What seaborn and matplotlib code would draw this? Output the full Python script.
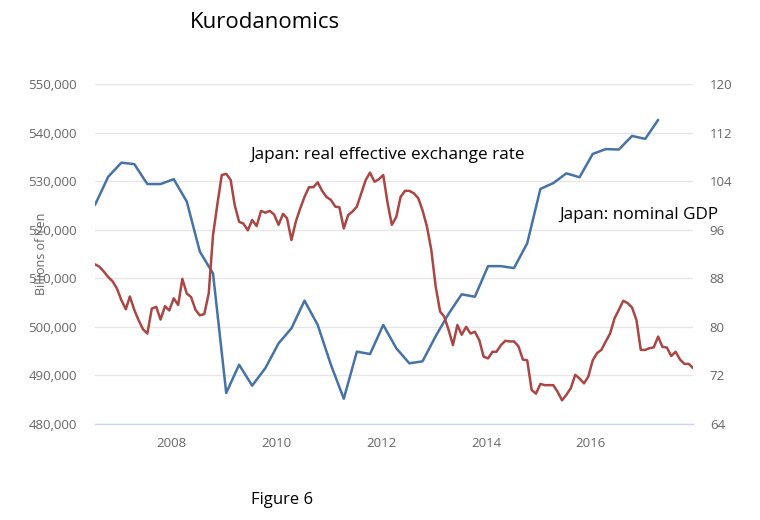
import pandas as pd
import matplotlib
matplotlib.use("Agg")
import matplotlib.pyplot as plt
import matplotlib.dates as mdates
from matplotlib.ticker import FuncFormatter, MultipleLocator
import seaborn as sns

# Japan nominal GDP, billions of yen (quarterly, from mid-2006)
gdp = [525100, 530900, 533800, 533500, 529400, 529400, 530400, 525800,
       515500, 511000, 486400, 492200, 487900, 491500, 496600, 499700,
       505400, 500400, 492200, 485200, 494900, 494400, 500400, 495600,
       492500, 492900, 498100, 502700, 506700, 506200, 512500, 512500,
       512100, 517200, 528400, 529600, 531600, 530800, 535600, 536600,
       536500, 539300, 538700, 542600]

# Japan real effective exchange rate (monthly, from mid-2006 to end 2017)
reer = [90.3, 89.9, 89.1, 88.2, 87.5, 86.3, 84.4, 82.9, 85.0, 82.8,
        81.1, 79.6, 78.9, 83.0, 83.3, 81.2, 83.4, 82.7, 84.7, 83.6,
        87.9, 85.5, 84.9, 82.8, 81.9, 82.1, 85.5, 95.1, 100.3, 105.0,
        105.2, 104.2, 100.1, 97.3, 97.0, 95.9, 97.6, 96.6, 99.1, 98.8,
        99.1, 98.5, 96.8, 98.6, 97.9, 94.3, 97.3, 99.5, 101.4, 103.0,
        103.0, 103.8, 102.4, 101.4, 100.9, 99.8, 99.7, 96.2, 98.4, 99.0,
        99.8, 102.0, 104.2, 105.4, 103.9, 104.3, 105.0, 100.3, 96.8, 98.1,
        101.4, 102.4, 102.4, 102.0, 101.2, 99.2, 96.5, 92.7, 86.6, 82.5,
        81.7, 79.5, 77.0, 80.3, 78.7, 80.0, 78.9, 79.2, 77.8, 75.1,
        74.8, 75.9, 75.9, 77.0, 77.7, 77.6, 77.6, 76.8, 74.6, 74.5,
        69.6, 69.0, 70.6, 70.4, 70.4, 70.4, 69.3, 67.9, 68.8, 69.9,
        72.1, 71.5, 70.7, 71.8, 74.5, 75.7, 76.2, 77.6, 78.9, 81.4,
        82.8, 84.3, 83.9, 83.2, 81.1, 76.2, 76.2, 76.5, 76.6, 78.4,
        76.7, 76.6, 75.2, 75.9, 74.6, 73.9, 73.9, 73.2]

months = pd.date_range("2006-07-01", periods=len(reer), freq="MS") + pd.Timedelta(days=14)
quarters = months[::3][:len(gdp)]

gdp_df = pd.DataFrame({"date": quarters, "gdp": gdp})
reer_df = pd.DataFrame({"date": months, "reer": reer})

sns.set_theme(style="white")
plt.rcParams["font.family"] = ["Open Sans", "DejaVu Sans"]

blue = "#4572a7"
red = "#aa4643"
tick_grey = "#666666"
axis_blue = "#ccd6eb"

fig = plt.figure(figsize=(7.6, 5.2), dpi=100)
ax = fig.add_axes([0.125, 0.1846, 0.787, 0.6539])
ax2 = ax.twinx()

sns.lineplot(data=gdp_df, x="date", y="gdp", ax=ax, color=blue, linewidth=1.8)
sns.lineplot(data=reer_df, x="date", y="reer", ax=ax2, color=red, linewidth=1.8)

ax.set_xlim(months[0], months[-1])
ax.set_ylim(480000, 550000)
ax.yaxis.set_major_locator(MultipleLocator(10000))
ax.yaxis.set_major_formatter(FuncFormatter(lambda v, p: f"{int(v):,}"))
ax2.set_ylim(64, 120)
ax2.yaxis.set_major_locator(MultipleLocator(8))

ax.grid(axis="y", color="#e6e6e6", linewidth=1)
ax.grid(axis="x", visible=False)
ax2.grid(False)

for a in (ax, ax2):
    for s in a.spines.values():
        s.set_visible(False)
ax.spines["bottom"].set_visible(True)
ax.spines["bottom"].set_color(axis_blue)
ax.spines["bottom"].set_linewidth(1)

ax.xaxis.set_major_locator(mdates.YearLocator(2))
ax.xaxis.set_major_formatter(mdates.DateFormatter("%Y"))
ax.tick_params(axis="x", colors=axis_blue, length=6, width=1, labelcolor=tick_grey,
               labelsize=9.5, pad=3)
ax.tick_params(axis="y", length=0, labelcolor=tick_grey, labelsize=9.5, pad=13)
ax2.tick_params(axis="y", length=0, labelcolor=tick_grey, labelsize=9.5, pad=12)

ax.set_xlabel("")
ax2.set_ylabel("")
# the axis title sits over the tick labels, as in the original
ax.set_ylabel("Billions of Yen", color=tick_grey, fontsize=9)
ax.yaxis.set_label_coords(-0.079, 0.5)

ax.text(0.259, 0.792, "Japan: real effective exchange rate", transform=ax.transAxes,
        fontsize=12.3, color="black", va="center", ha="left")
ax.text(0.776, 0.615, "Japan: nominal GDP", transform=ax.transAxes,
        fontsize=12.3, color="black", va="center", ha="left")

fig.text(0.349, 0.957, "Kurodanomics", fontsize=16, ha="center", va="center", color="black")
fig.text(0.371, 0.038, "Figure 6", fontsize=12, ha="center", va="center", color="black")

fig.savefig("out.png", dpi=100)
